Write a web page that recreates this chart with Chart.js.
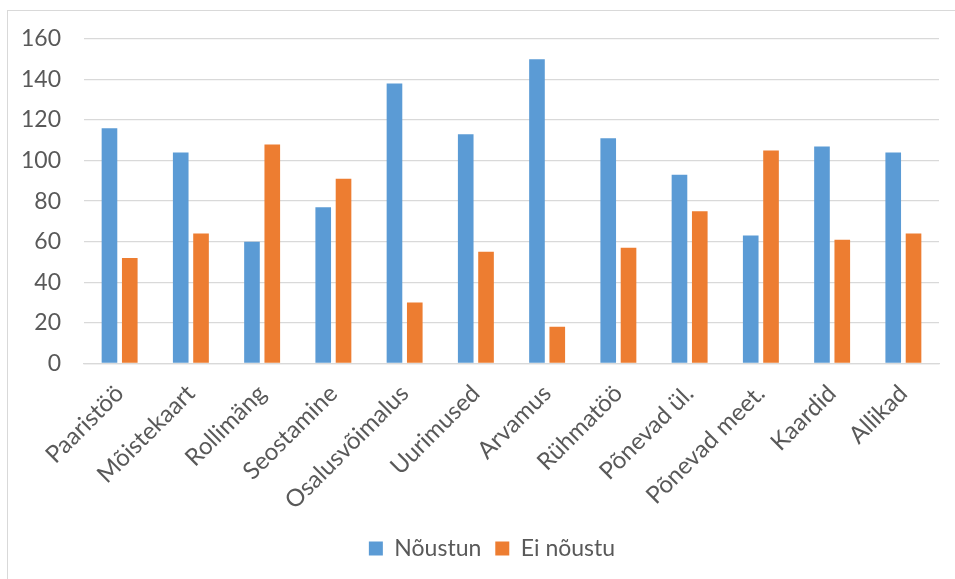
<!DOCTYPE html>
<html>
<head>
<meta charset="utf-8">
<script src="https://cdn.jsdelivr.net/npm/chart.js@4/dist/chart.umd.min.js"></script>
<style>
  html, body { margin: 0; padding: 0; background: #fff; overflow: hidden; width: 955px; height: 579px; }
  #frame { position: absolute; left: 7px; top: 10px; width: 1000px; height: 600px; border: 1px solid #d9d9d9; }
  #wrap { position: absolute; left: 0px; top: 0px; width: 968px; height: 568px; }
</style>
</head>
<body>
<div id="frame">
  <div id="wrap"><canvas id="chart"></canvas></div>
</div>
<script>
const categories = ["Paaristöö", "Mõistekaart", "Rollimäng", "Seostamine", "Osalusvõimalus", "Uurimused",
  "Arvamus", "Rühmatöö", "Põnevad ül.", "Põnevad meet.", "Kaardid", "Allikad"];
const noustun = [116, 104, 60, 77, 138, 113, 150, 111, 93, 63, 107, 104];
const eiNoustu = [52, 64, 108, 91, 30, 55, 18, 57, 75, 105, 61, 64];
const yTicks = [0, 20, 40, 60, 80, 100, 120, 140, 160];

const textColor = "#595959";
const font = { family: "Lato", size: 23 };
const xFont = { family: "Lato", size: 24 };

const ctx = document.getElementById("chart").getContext("2d");
const chart = new Chart(ctx, {
  type: "bar",
  data: {
    labels: categories,
    datasets: [
      { label: "Nõustun", data: noustun, backgroundColor: "#5b9bd5" },
      { label: "Ei nõustu", data: eiNoustu, backgroundColor: "#ed7d31" }
    ]
  },
  options: {
    responsive: true,
    maintainAspectRatio: false,
    animation: false,
    layout: { padding: { left: 0, right: 0, top: 28, bottom: 9 } },
    datasets: { bar: { categoryPercentage: 0.57, barPercentage: 0.77 } },
    scales: {
      x: {
        grid: { display: false },
        border: { color: "#d9d9d9", width: 1.3 },
        ticks: { color: textColor, font: xFont, autoSkip: false, maxRotation: 45, minRotation: 45, padding: 8 },
        afterFit: (axis) => { axis.paddingLeft = 0; axis.paddingRight = 37; }
      },
      y: {
        min: 0,
        max: 160,
        afterBuildTicks: (axis) => { axis.ticks = yTicks.map(v => ({ value: v })); },
        afterFit: (axis) => { axis.width = 76; axis.paddingTop = 0; axis.paddingBottom = 0; },
        grid: { color: "#d9d9d9", lineWidth: 1.3, drawTicks: false },
        border: { display: false },
        ticks: { color: textColor, font, padding: 23 }
      }
    },
    plugins: {
      legend: {
        position: "bottom",
        labels: { color: textColor, font, boxWidth: 14, boxHeight: 14, padding: 14 }
      },
      tooltip: { enabled: false }
    }
  }
});
</script>
</body>
</html>
